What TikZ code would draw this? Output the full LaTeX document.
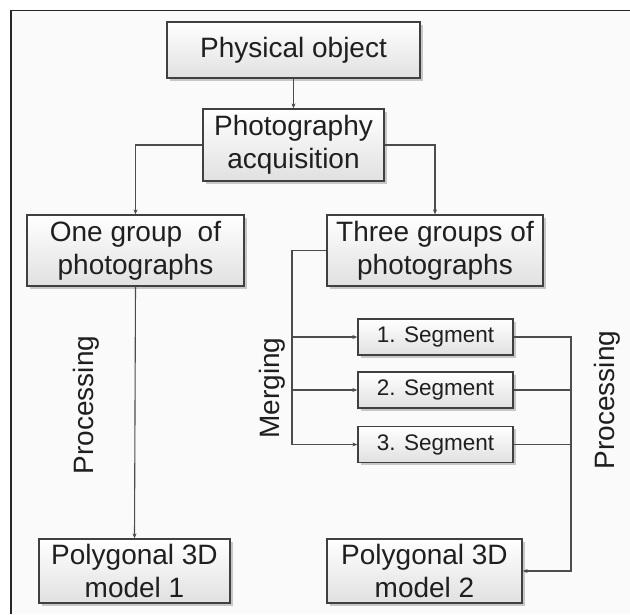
\documentclass[tikz,border=0pt]{standalone}
\usepackage{fontspec}
\setmainfont{Liberation Sans}
\usetikzlibrary{shadows,arrows.meta,calc}
\begin{document}
\begin{tikzpicture}[x=1pt,y=-1pt,
  box/.style={draw=black!75, line width=1.3pt, top color=white, bottom color=black!12,
    inner sep=0pt, align=center, text=black!88,
    font=\fontsize{28}{33}\selectfont,
    drop shadow={shadow xshift=2.5pt, shadow yshift=-2.5pt, fill=black!35, opacity=0.6}},
  segbox/.style={box, font=\fontsize{22.5}{26}\selectfont},
  conn/.style={draw=black!70, line width=1.1pt},
  arr/.style={conn, -{Stealth[length=5pt,width=4pt]}},
  lbl/.style={rotate=90, text=black!88, font=\fontsize{28}{33}\selectfont, inner sep=0pt}]
\useasboundingbox (0,0) rectangle (630,614);
\fill[white!98!black] (11,10.5) rectangle (630,614);
\draw[black!85, line width=1.5pt] (11,614) -- (11,10.5) -- (630,10.5);

\node[box, minimum width=253pt, minimum height=56pt] (phys) at (293.5,50) {Physical object};
\node[box, minimum width=181pt, minimum height=72pt] (photo) at (293.5,145) {Photography\\acquisition};
\node[box, minimum width=217pt, minimum height=71pt] (one) at (135.5,250.5) {One group~ of\\photographs};
\node[box, minimum width=216pt, minimum height=71pt] (three) at (435,250.5) {Three groups of\\photographs};
\node[segbox, minimum width=155pt, minimum height=36pt] (s1) at (435.5,337) {1. Segment};
\node[segbox, minimum width=155pt, minimum height=36pt] (s2) at (435.5,390) {2. Segment};
\node[segbox, minimum width=155pt, minimum height=36pt] (s3) at (435.5,444.5) {3. Segment};
\node[box, minimum width=191pt, minimum height=64pt] (m1) at (134.5,571) {Polygonal 3D\\model 1};
\node[box, minimum width=195pt, minimum height=64pt] (m2) at (424.5,571) {Polygonal 3D\\model 2};

\node[lbl] (proc1) at (86,405) {Processing};
\node[lbl] (merg) at (272,388) {Merging};
\node[lbl] (proc2) at (607,400) {Processing};

\coordinate (mx) at (292,0);
\coordinate (cx) at (571,0);

\draw[arr] (phys.south) -- (photo.north);
\draw[arr] (photo.west) -| (one.north);
\draw[arr] (photo.east) -| (three.north);
\draw[arr] (one.south) -- (m1.north);
\draw[conn] (three.west) -- (three.west -| mx) -- (s3.west -| mx);
\draw[arr] (s1.west -| mx) -- (s1.west);
\draw[arr] (s2.west -| mx) -- (s2.west);
\draw[arr] (s3.west -| mx) -- (s3.west);
\draw[conn] (s2.east) -- (s2.east -| cx);
\draw[conn] (s3.east) -- (s3.east -| cx);
\draw[arr] (s1.east) -- (s1.east -| cx) -- (m2.east -| cx) -- (m2.east);
\end{tikzpicture}
\end{document}
